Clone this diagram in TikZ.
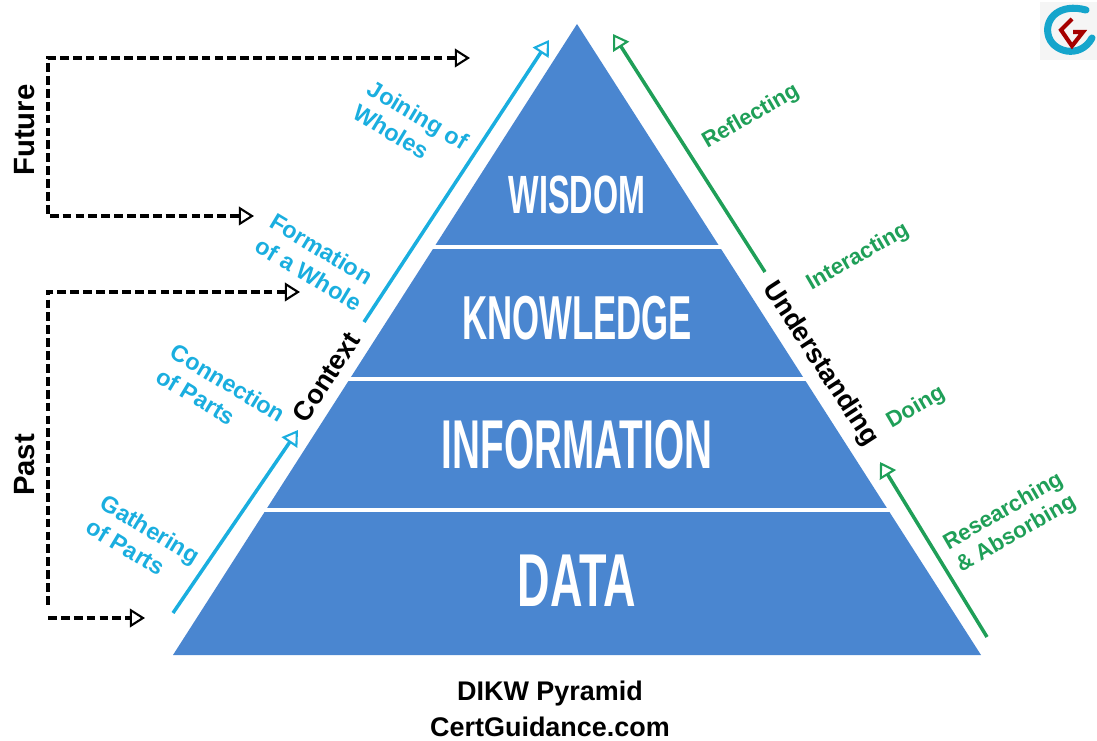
\documentclass[tikz,border=0pt]{standalone}
\usepackage{fontspec}
\setmainfont{Liberation Sans}
\newfontfamily\pyrfont[FakeStretch=0.6]{Liberation Sans}
\newfontfamily\pyrnarrow[FakeStretch=0.56]{Liberation Sans}
\usetikzlibrary{arrows.meta}
\definecolor{pyrblue}{HTML}{4A86D0}
\definecolor{ctxblue}{HTML}{1AAEDF}
\definecolor{undgreen}{HTML}{1F9F58}
\tikzset{
  level/.style 2 args={text=white,font=#1\bfseries\fontsize{#2}{#2}\selectfont},
  side/.style={text=black,font=\bfseries\fontsize{23}{27}\selectfont},
  time/.style={text=black,font=\bfseries\fontsize{25}{29}\selectfont,rotate=90},
  ctxlabel/.style={text=ctxblue,align=left,rotate=-31,font=\bfseries\fontsize{20}{24}\selectfont},
  undlabel/.style={text=undgreen,align=center,rotate=30,font=\bfseries\fontsize{19}{22}\selectfont},
  ctxarrow/.style={->,ctxblue,line width=3pt},
  undarrow/.style={->,undgreen,line width=3pt},
  timeline/.style={black,line width=2.6pt,dash pattern=on 7.5pt off 3.5pt},
}
\begin{document}
\begin{tikzpicture}[>={Triangle[open,length=13pt,width=16pt,line width=1.8pt]},x=0.03cm,y=-0.03cm]
  \useasboundingbox (0,0) rectangle (1097,741);

  % Pyramid
  \fill[pyrblue] (173,655) -- (577,24) -- (981,655) -- cycle;
  \foreach \yy in {247,379,510}
    \draw[white,line width=3.2pt] (173,\yy) -- (981,\yy);
  \node[level={\pyrfont}{46}] (Wis) at (577,195) {WISDOM};
  \node[level={\pyrnarrow}{53}] (Kno) at (577,318) {KNOWLEDGE};
  \node[level={\pyrnarrow}{59}] (Inf) at (577,445) {INFORMATION};
  \node[level={\pyrfont}{64}] (Dat) at (577,581) {DATA};

  % Arrow ends
  \coordinate (ctxA) at (173,613);
  \coordinate (ctxB) at (298,430);
  \coordinate (ctxC) at (364,322);
  \coordinate (ctxD) at (549,40);
  \coordinate (undA) at (987,637);
  \coordinate (undB) at (880,462);
  \coordinate (undC) at (765,272);
  \coordinate (undD) at (613,34);

  % Side arrows
  \draw[ctxarrow] (ctxA) -- (ctxB);
  \draw[ctxarrow] (ctxC) -- (ctxD);
  \draw[undarrow] (undA) -- (undB);
  \draw[undarrow] (undC) -- (undD);
  \node[side,rotate=57] (Ctx) at (326,377) {Context};
  \node[side,rotate=-57] (Und) at (820,364) {Understanding};

  % Side labels
  \node[ctxlabel] (Join) at (411,127) {Joining of\\Wholes};
  \node[ctxlabel] (Form) at (316,262) {Formation\\of a Whole};
  \node[ctxlabel] (Conn) at (221,395) {Connection\\of Parts};
  \node[ctxlabel] (Gath) at (143,541) {Gathering\\of Parts};
  \node[undlabel] (Refl) at (751,117) {Reflecting};
  \node[undlabel] (Inte) at (858,257) {Interacting};
  \node[undlabel] (Doin) at (916,408) {Doing};
  \node[undlabel] (Rese) at (1010,523) {Researching\\\&\ Absorbing};

  % Time brackets
  \coordinate (futA) at (470,58);
  \coordinate (futB) at (48,58);
  \coordinate (futC) at (48,216);
  \coordinate (futD) at (254,216);
  \coordinate (pasA) at (300,292);
  \coordinate (pasB) at (48,292);
  \coordinate (pasC) at (48,608);
  \coordinate (pasD) at (48,618);
  \coordinate (pasE) at (145,618);
  \draw[timeline,<->] (futA) -- (futB) -- (futC) -- (futD);
  \draw[timeline,<-] (pasA) -- (pasB) -- (pasC);
  \draw[timeline,->] (pasD) -- (pasE);
  \node[time] (Fut) at (25,130) {Future};
  \node[time] (Pas) at (25,465) {Past};

  % Caption
  \node[side] (Cap) at (550,694) {DIKW Pyramid};
  \node[side] (Site) at (550,727) {CertGuidance.com};

  % Logo
  \fill[black!4] (1040,2) rectangle (1097,60);
  \draw[ctxblue!80!teal,line width=6pt,line cap=round] (1086,10) .. controls (1060,3) and (1045,18) .. (1048,34) .. controls (1051,52) and (1080,60) .. (1092,38);
  \draw[red!65!black,line width=3.5pt] (1072,19) -- (1061,30) -- (1072,46) -- (1083,32) -- (1073,32);
\end{tikzpicture}
\end{document}
